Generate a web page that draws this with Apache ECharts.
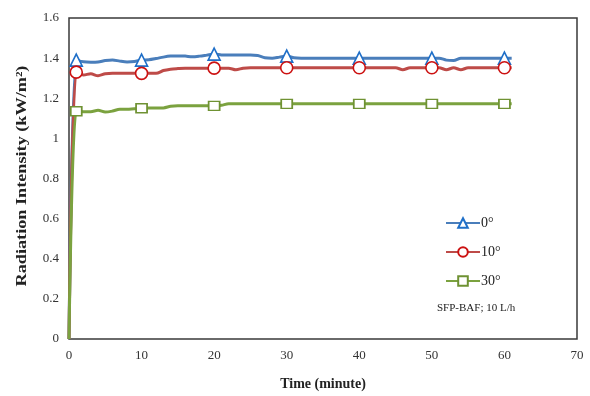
<!DOCTYPE html>
<html>
<head>
<meta charset="utf-8">
<script src="https://cdn.jsdelivr.net/npm/echarts@6/dist/echarts.min.js"></script>
<style>
  html, body { margin: 0; padding: 0; background: #fff; }
  #chart { width: 590px; height: 396px; }
</style>
</head>
<body>
<div id="chart"></div>
<script>
// Time in minutes (one reading per minute)
const minutes = [0,1,2,3,4,5,6,7,8,9,10,11,12,13,14,15,16,17,18,19,20,21,22,23,24,25,26,27,28,29,30,
  31,32,33,34,35,36,37,38,39,40,41,42,43,44,45,46,47,48,49,50,51,52,53,54,55,56,57,58,59,60,61];

// Radiation intensity (kW/m2) per tilt angle
const deg0 = [0,1.39,1.382,1.38,1.381,1.388,1.391,1.385,1.381,1.383,1.39,1.392,1.398,1.405,1.41,1.411,1.41,1.407,1.41,1.415,1.42,
  1.416,1.415,1.415,1.415,1.415,1.413,1.402,1.4,1.405,1.41,1.402,1.4,1.4,1.4,1.4,1.4,1.4,1.4,1.4,1.4,
  1.4,1.4,1.4,1.4,1.4,1.4,1.4,1.4,1.4,1.4,1.4,1.39,1.388,1.4,1.4,1.4,1.4,1.4,1.4,1.4,1.4];
const deg10 = [0,1.33,1.316,1.322,1.312,1.322,1.324,1.324,1.324,1.324,1.324,1.324,1.324,1.338,1.345,1.348,1.35,1.35,1.35,1.35,1.35,
  1.35,1.35,1.342,1.35,1.352,1.352,1.352,1.352,1.352,1.352,1.352,1.352,1.352,1.352,1.352,1.352,1.352,1.352,1.352,1.352,
  1.352,1.352,1.352,1.352,1.352,1.342,1.352,1.352,1.352,1.352,1.352,1.342,1.352,1.342,1.352,1.352,1.352,1.352,1.352,1.352,1.352];
const deg30 = [0,1.135,1.133,1.133,1.14,1.131,1.136,1.145,1.145,1.148,1.15,1.152,1.152,1.152,1.16,1.162,1.162,1.162,1.162,1.162,1.162,
  1.165,1.172,1.172,1.172,1.172,1.172,1.172,1.172,1.172,1.172,1.172,1.172,1.172,1.172,1.172,1.172,1.172,1.172,1.172,1.172,
  1.172,1.172,1.172,1.172,1.172,1.172,1.172,1.172,1.172,1.172,1.172,1.172,1.172,1.172,1.172,1.172,1.172,1.172,1.172,1.172,1.172];

// Minutes at which a marker is drawn
const markerMinutes = [1,10,20,30,40,50,60];

const seriesNames = ['0°', '10°', '30°'];
const yTicks = [0, 0.2, 0.4, 0.6, 0.8, 1, 1.2, 1.4, 1.6];
const xTicks = [0, 10, 20, 30, 40, 50, 60, 70];

const serif = '"Liberation Serif", "DejaVu Serif", serif';

function buildData(values) {
  return minutes.map((t, i) => {
    const item = { value: [t, values[i]] };
    if (markerMinutes.indexOf(t) < 0) item.symbol = 'none';
    return item;
  });
}

function makeSeries(name, values, lineColor, symbol, markColor, size) {
  return {
    name: name,
    type: 'line',
    data: buildData(values),
    smooth: 0.3,
    symbol: symbol,
    symbolSize: size,
    showAllSymbol: true,
    lineStyle: { color: lineColor, width: 3 },
    itemStyle: { color: '#ffffff', borderColor: markColor, borderWidth: 1.6 },
    emphasis: { disabled: true },
    z: 2
  };
}

const chart = echarts.init(document.getElementById('chart'), null, { renderer: 'canvas' });
chart.setOption({
  animation: false,
  backgroundColor: '#ffffff',
  grid: {
    left: 69, right: 13, top: 18, bottom: 57,
    show: true, borderColor: '#3a3a3a', borderWidth: 1.5, backgroundColor: 'transparent'
  },
  xAxis: {
    type: 'value', min: xTicks[0], max: xTicks[xTicks.length - 1], interval: 10,
    name: 'Time (minute)', nameLocation: 'middle', nameGap: 38,
    nameTextStyle: { fontFamily: serif, fontWeight: 'bold', fontSize: 14, color: '#222' },
    axisLine: { show: false }, axisTick: { show: false }, splitLine: { show: false },
    axisLabel: { fontFamily: serif, fontSize: 13, color: '#333', margin: 10 }
  },
  yAxis: {
    type: 'value', min: yTicks[0], max: yTicks[yTicks.length - 1], interval: 0.2,
    axisLine: { show: false }, axisTick: { show: false }, splitLine: { show: false },
    axisLabel: { fontFamily: serif, fontSize: 13, color: '#333', margin: 10 }
  },
  legend: {
    orient: 'vertical', left: 440, top: 211, itemGap: 15,
    itemWidth: 34, itemHeight: 12,
    textStyle: { fontFamily: serif, fontSize: 14, color: '#222', padding: [0, 0, 0, -4] },
    data: seriesNames
  },
  graphic: [
    {
      // vertical axis title, drawn slightly elongated along its length
      type: 'text', x: 22, y: 176, rotation: Math.PI / 2, scaleX: 1.3,
      style: {
        text: 'Radiation Intensity (kW/m²)', font: 'bold 14px ' + serif, fill: '#222',
        textAlign: 'center', textVerticalAlign: 'middle'
      }
    },
    {
      type: 'text', left: 437, top: 303,
      style: { text: 'SFP-BAF; 10 L/h', font: '11px ' + serif, fill: '#222' }
    }
  ],
  series: [
    makeSeries(seriesNames[0], deg0, '#4a7ebb', 'triangle', '#1f6fc8', 12),
    makeSeries(seriesNames[1], deg10, '#be4b48', 'circle', '#cc1111', 12),
    makeSeries(seriesNames[2], deg30, '#7ba23f', 'rect', '#6f9233', [11, 9])
  ]
});
</script>
</body>
</html>
